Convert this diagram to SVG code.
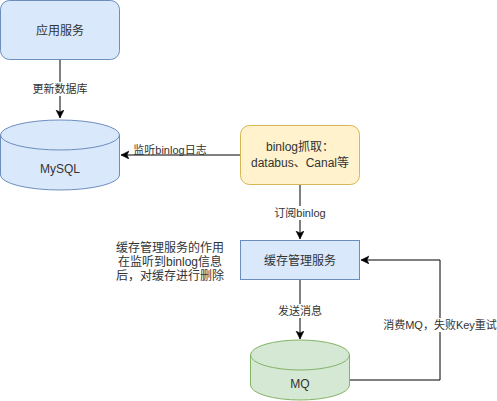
<svg xmlns="http://www.w3.org/2000/svg" width="497" height="401" viewBox="0 0 497 401">
<style>
text{font-family:"Liberation Sans","Noto Sans CJK SC",Arial,sans-serif;fill:#333333;text-anchor:middle}
.n{font-size:12px}
.e{font-size:11px}
.blue{fill:#dae8fc;stroke:#6c8ebf;stroke-width:1}
.yellow{fill:#fff2cc;stroke:#d6b656;stroke-width:1}
.green{fill:#d5e8d4;stroke:#82b366;stroke-width:1}
.line{fill:none;stroke:#000;stroke-width:1}
.bg{fill:#ffffff}
</style>
<defs>
<marker id="arr" markerWidth="10" markerHeight="10" refX="8" refY="4" orient="auto" markerUnits="userSpaceOnUse">
<path d="M0,0 L8,4 L0,8 L2,4 Z" fill="#000" stroke="#000" stroke-width="0.5"/>
</marker>
</defs>
<rect width="497" height="401" fill="#ffffff"/>
<g id="connectors">
<path class="line" d="M60,60 L60,118" marker-end="url(#arr)"/>
<rect class="bg" x="32" y="82" width="56" height="14"/>
<text class="e" x="60" y="93">更新数据库</text>
<path class="line" d="M240,155 L121,155" marker-end="url(#arr)"/>
<text class="e" x="170" y="154">监听binlog日志</text>
<path class="line" d="M300,185 L300,239" marker-end="url(#arr)"/>
<rect class="bg" x="272" y="206" width="56" height="14"/>
<text class="e" x="300" y="217">订阅binlog</text>
<path class="line" d="M300,280 L300,339" marker-end="url(#arr)"/>
<rect class="bg" x="276" y="304" width="48" height="14"/>
<text class="e" x="300" y="315">发送消息</text>
<path class="line" d="M350,380 L440,380 L440,260 L361,260" marker-end="url(#arr)"/>
<rect class="bg" x="383" y="318" width="114" height="14"/>
<text class="e" x="440" y="329">消费MQ，失败Key重试</text>
</g>
<g id="app">
<rect class="blue" x="0.5" y="0.5" width="119" height="59" rx="9" ry="9"/>
<text class="n" x="60" y="35">应用服务</text>
</g>
<g id="mysql">
<path class="blue" d="M0.5,135 A59.5,15 0 0 1 119.5,135 L119.5,175 A59.5,15 0 0 1 0.5,175 Z"/>
<path class="line" style="stroke:#6c8ebf" d="M0.5,135 A59.5,15 0 0 0 119.5,135"/>
<text class="n" x="60" y="173">MySQL</text>
</g>
<g id="binlog">
<rect class="yellow" x="240.5" y="125.5" width="119" height="59" rx="9" ry="9"/>
<text class="n" x="300" y="151">binlog抓取：</text>
<text class="n" x="300" y="167">databus、Canal等</text>
</g>
<g id="cache">
<rect class="blue" x="240.5" y="240.5" width="119" height="39"/>
<text class="n" x="300" y="265">缓存管理服务</text>
</g>
<g id="note">
<text class="n" x="170" y="252">缓存管理服务的作用</text>
<text class="n" x="170" y="266">在监听到binlog信息</text>
<text class="n" x="170" y="280">后，对缓存进行删除</text>
</g>
<g id="mq">
<path class="green" d="M250.5,355 A49.5,15 0 0 1 349.5,355 L349.5,385 A49.5,15 0 0 1 250.5,385 Z"/>
<path class="line" style="stroke:#82b366" d="M250.5,355 A49.5,15 0 0 0 349.5,355"/>
<text class="n" x="300" y="388">MQ</text>
</g>
</svg>
